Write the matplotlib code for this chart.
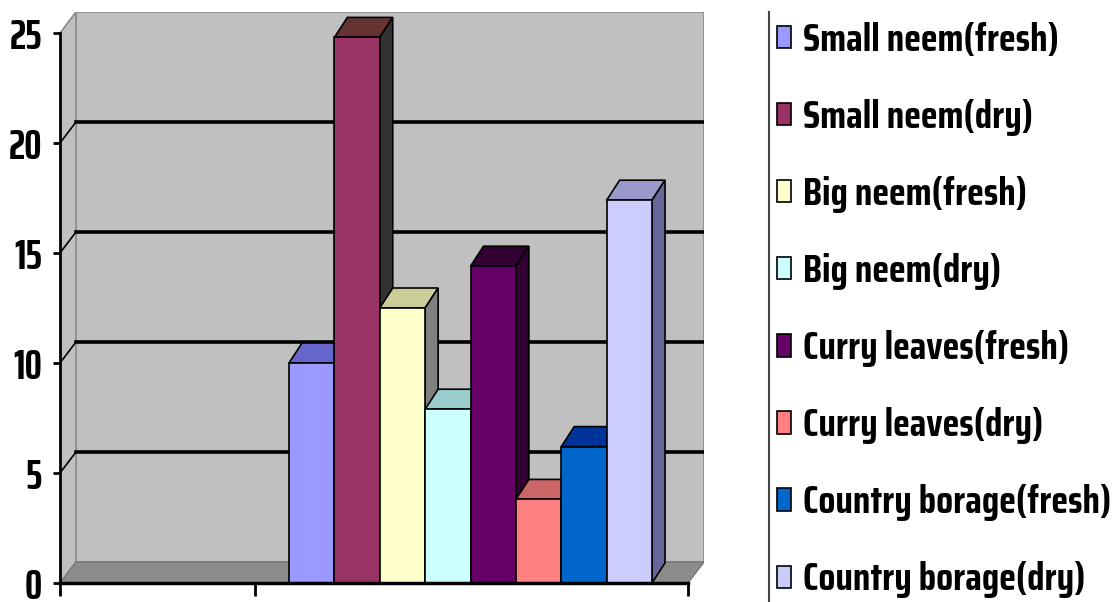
import matplotlib
matplotlib.use("Agg")
import matplotlib.pyplot as plt
from matplotlib.patches import Polygon
from matplotlib.lines import Line2D

plt.rcParams['font.family'] = ['Saira Condensed', 'DejaVu Sans']
plt.rcParams['font.weight'] = 'bold'

# data
categories = ['Small neem(fresh)', 'Small neem(dry)', 'Big neem(fresh)', 'Big neem(dry)',
              'Curry leaves(fresh)', 'Curry leaves(dry)', 'Country borage(fresh)',
              'Country borage(dry)']
values = [10.0, 24.8, 12.5, 7.9, 14.4, 3.8, 6.2, 17.4]
y_ticks = [0, 5, 10, 15, 20, 25]

# styles
front_colors = ['#9999FF', '#993366', '#FFFFCC', '#CCFFFF', '#660066', '#FF8080', '#0066CC', '#CCCCFF']
top_colors = ['#6666CC', '#663333', '#CCCC99', '#99CCCC', '#330033', '#CC6666', '#003399', '#9999CC']
side_colors = ['#6666CC', '#333333', '#808080', '#99CCCC', '#330033', '#CC6666', '#003399', '#666699']

# geometry (x in bar widths, y in data units)
PX = 45.375                 # pixels per bar width
X0 = (60 - 289) / PX        # left end of front axis
XF = (688 - 289) / PX       # right end of front axis
DXW, DYW = 16 / PX, 21 / 22  # wall depth
DXB, DYB = 13 / PX, 20 / 22  # bar depth
YTOP = 25 + DYW
WALL = '#C0C0C0'
EDGE = '#8C8C8C'

fig = plt.figure(figsize=(11.17, 6.02), dpi=100)
ax = fig.add_axes([60 / 1117, (602 - 583) / 602, (704 - 60) / 1117, (583 - 12) / 602])
ax.set_xlim(X0, XF + DXW)
ax.set_ylim(0, YTOP)
ax.set_facecolor('none')

# back wall, side wall, floor
ax.add_patch(Polygon([(X0 + DXW, DYW), (XF + DXW, DYW), (XF + DXW, YTOP), (X0 + DXW, YTOP)],
                     closed=True, facecolor=WALL, edgecolor=EDGE, lw=1.2, zorder=0))
ax.add_patch(Polygon([(X0, 0), (X0 + DXW, DYW), (X0 + DXW, YTOP), (X0, 25)],
                     closed=True, facecolor=WALL, edgecolor=EDGE, lw=1.2, zorder=0.5))
ax.add_patch(Polygon([(X0, 0), (XF, 0), (XF + DXW, DYW), (X0 + DXW, DYW)],
                     closed=True, facecolor='#8C8C8C', edgecolor='#777777', lw=1.0, zorder=0.6))

# gridlines on the wall
for v in y_ticks[1:-1]:
    ax.plot([X0 + DXW, XF + DXW], [v + DYW, v + DYW], color='black', lw=2.6, zorder=1)
    ax.plot([X0, X0 + DXW], [v, v + DYW], color='black', lw=1.2, zorder=1)

# bars: front faces
bars = ax.bar(range(len(values)), values, width=1.0, align='edge', color=front_colors,
              edgecolor='black', linewidth=1.2, zorder=3)
for i, (b, v) in enumerate(zip(bars.patches, values)):
    z = 3 + i * 0.1
    b.set_zorder(z + 0.05)
    ax.add_patch(Polygon([(i, v), (i + DXB, v + DYB), (i + 1 + DXB, v + DYB), (i + 1, v)],
                         closed=True, facecolor=top_colors[i], edgecolor='black', lw=1.2, zorder=z))
    ax.add_patch(Polygon([(i + 1, 0), (i + 1 + DXB, DYB), (i + 1 + DXB, v + DYB), (i + 1, v)],
                         closed=True, facecolor=side_colors[i], edgecolor='black', lw=1.2, zorder=z))

# axes
for s in ['top', 'right']:
    ax.spines[s].set_visible(False)
ax.spines['left'].set_bounds(0, 25)
ax.spines['left'].set_linewidth(2)
ax.spines['bottom'].set_bounds(X0, XF)
ax.spines['bottom'].set_linewidth(2.5)
ax.spines['left'].set_zorder(5)
ax.spines['bottom'].set_zorder(5)
ax.set_yticks(y_ticks)
ax.set_yticklabels([str(t) for t in y_ticks], family=['Saira ExtraCondensed', 'DejaVu Sans'],
                   fontweight='bold')
ax.tick_params(axis='y', labelsize=31, pad=8, length=5, width=2)
ax.set_xticks([X0, (255 - 289) / PX, XF])
ax.set_xticklabels([])
ax.tick_params(axis='x', length=9, width=2)

# legend
leg = fig.legend(handles=bars.patches, labels=categories, loc='upper left',
                 bbox_to_anchor=(777 / 1117, 1 - 22 / 602), frameon=False,
                 fontsize=28, handlelength=0.36, handleheight=0.5, handletextpad=0.3,
                 labelspacing=1.03, borderpad=0, borderaxespad=0)
fig.add_artist(Line2D([769 / 1117, 769 / 1117], [0, 1 - 12 / 602], color='#444444', lw=1.5,
                      transform=fig.transFigure))

fig.savefig('out.png', dpi=100)
